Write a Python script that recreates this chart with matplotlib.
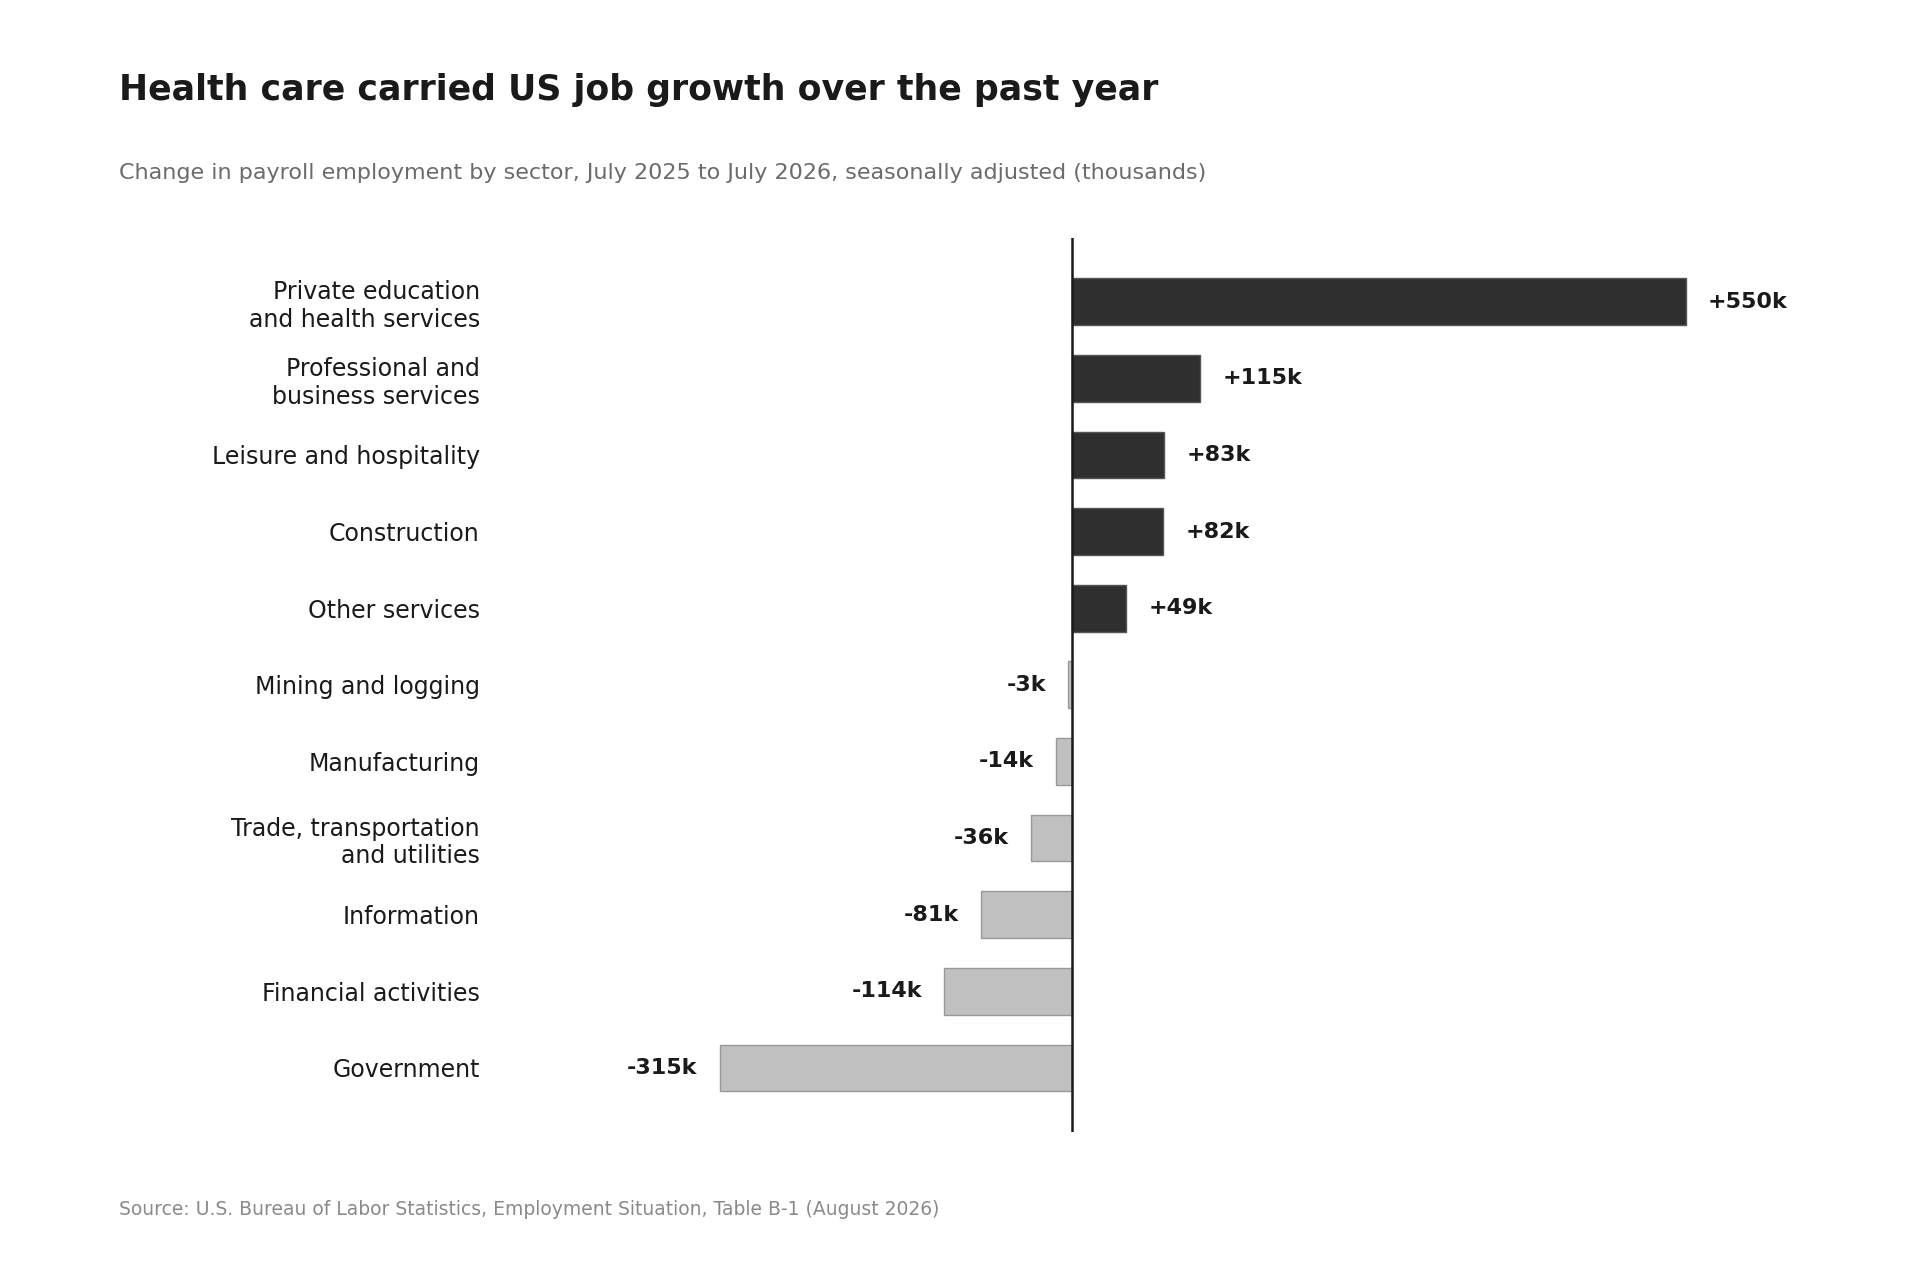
import matplotlib.pyplot as plt

# Data
sectors = ['Private education\nand health services', 'Professional and\nbusiness services',
           'Leisure and hospitality', 'Construction', 'Other services', 'Mining and logging',
           'Manufacturing', 'Trade, transportation\nand utilities', 'Information',
           'Financial activities', 'Government']
changes = [550, 115, 83, 82, 49, -3, -14, -36, -81, -114, -315]

fig = plt.figure(figsize=(19.2, 12.8), dpi=100)
ax = fig.add_axes([0.2615, 0.116, 0.6955, 0.698])

pos = list(range(len(sectors)))
colors = ['#2f2f2f' if v > 0 else '#c0c0c0' for v in changes]
edges = ['#555555' if v > 0 else '#999999' for v in changes]
ax.barh(pos, changes, height=0.61, color=colors, edgecolor=edges, linewidth=1)

for p, v in zip(pos, changes):
    txt = f'+{v}k' if v > 0 else f'{v}k'
    off = 16 if v > 0 else -16
    ax.annotate(txt, (v, p), xytext=(off, 0), textcoords='offset points',
                ha='left' if v > 0 else 'right', va='center',
                fontsize=16, fontweight='bold', color='#1a1a1a')

ax.set_xlim(-510, 686)
ax.set_ylim(10.83, -0.83)
ax.set_yticks(pos)
ax.set_yticklabels(sectors, fontsize=17, color='#1a1a1a')
ax.tick_params(axis='y', length=0, pad=16)
ax.set_xticks([])
for s in ax.spines.values():
    s.set_visible(False)
ax.axvline(0, color='#1a1a1a', linewidth=1.8)

fig.text(0.062, 0.93, 'Health care carried US job growth over the past year',
         fontsize=25, fontweight='bold', color='#1a1a1a', va='center')
fig.text(0.062, 0.865, 'Change in payroll employment by sector, July 2025 to July 2026, seasonally adjusted (thousands)',
         fontsize=16, color='#6b6b6b', va='center')
fig.text(0.062, 0.055, 'Source: U.S. Bureau of Labor Statistics, Employment Situation, Table B-1 (August 2026)',
         fontsize=13.5, color='#8a8a8a', va='center')

plt.savefig('out.png')
